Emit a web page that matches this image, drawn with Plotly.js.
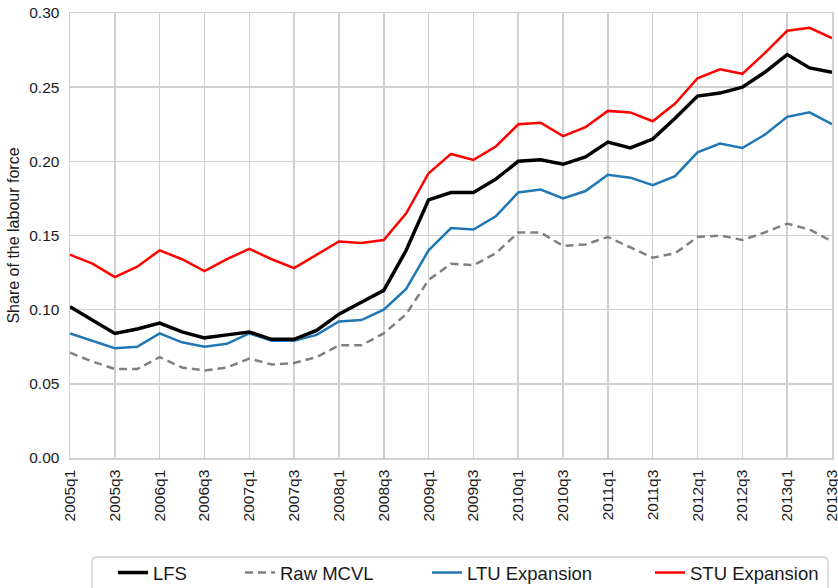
<!DOCTYPE html>
<html>
<head>
<meta charset="utf-8">
<script src="https://cdn.plot.ly/plotly-3.0.1.min.js"></script>
<style>html,body{margin:0;padding:0;background:#fff;}#chart{width:838px;height:588px;}</style>
</head>
<body>
<div id="chart"></div>
<script>
const quarters = [];
for (let y = 2005; y <= 2013; y++) {
  for (let q = 1; q <= 4; q++) {
    if (y === 2013 && q > 3) break;
    quarters.push(y + "q" + q);
  }
}
const tickLabels = quarters.filter((_, i) => i % 2 === 0);

const lfs = [0.102, 0.093, 0.084, 0.087, 0.091, 0.085, 0.081, 0.083, 0.085, 0.080, 0.080, 0.086, 0.097, 0.105, 0.113, 0.140, 0.174, 0.179, 0.179, 0.188, 0.200, 0.201, 0.198, 0.203, 0.213, 0.209, 0.215, 0.229, 0.244, 0.246, 0.250, 0.260, 0.272, 0.263, 0.260];
const rawMcvl = [0.071, 0.065, 0.060, 0.060, 0.068, 0.061, 0.059, 0.061, 0.067, 0.063, 0.064, 0.068, 0.076, 0.076, 0.084, 0.097, 0.120, 0.131, 0.130, 0.138, 0.152, 0.152, 0.143, 0.144, 0.149, 0.142, 0.135, 0.138, 0.149, 0.150, 0.147, 0.152, 0.158, 0.154, 0.146];
const ltu = [0.084, 0.079, 0.074, 0.075, 0.084, 0.078, 0.075, 0.077, 0.084, 0.079, 0.079, 0.083, 0.092, 0.093, 0.100, 0.114, 0.140, 0.155, 0.154, 0.163, 0.179, 0.181, 0.175, 0.180, 0.191, 0.189, 0.184, 0.190, 0.206, 0.212, 0.209, 0.218, 0.230, 0.233, 0.225];
const stu = [0.137, 0.131, 0.122, 0.129, 0.140, 0.134, 0.126, 0.134, 0.141, 0.134, 0.128, 0.137, 0.146, 0.145, 0.147, 0.165, 0.192, 0.205, 0.201, 0.210, 0.225, 0.226, 0.217, 0.223, 0.234, 0.233, 0.227, 0.239, 0.256, 0.262, 0.259, 0.273, 0.288, 0.290, 0.283];

const W = 838, H = 588, L = 70, R = 6, T = 13, B = 130;
const pw = W - L - R, ph = H - T - B;
const px = v => (v - L) / pw;
const py = v => (H - B - v) / ph;

const legY = py(554);
const traces = [
  {x: quarters, y: stu, name: 'STU Expansion', mode: 'lines', line: {color: '#ff0000', width: 2.5}, legend: 'legend4'},
  {x: quarters, y: ltu, name: 'LTU Expansion', mode: 'lines', line: {color: '#1f77b4', width: 2.5}, legend: 'legend3'},
  {x: quarters, y: rawMcvl, name: 'Raw MCVL', mode: 'lines', line: {color: '#808080', width: 2.5, dash: '8px,5px'}, legend: 'legend2'},
  {x: quarters, y: lfs, name: 'LFS', mode: 'lines', line: {color: '#000000', width: 3.5}, legend: 'legend'}
];
const legBase = {orientation: 'h', yanchor: 'top', xanchor: 'left', y: legY, bgcolor: 'rgba(0,0,0,0)', borderwidth: 0,
  font: {family: 'Liberation Sans, Arial, sans-serif', size: 18.5, color: '#1a1a1a'}};

const x0 = px(92), x1 = px(828), yTop = py(557), yBot = py(600);
const rx = 5 / pw, ry = 5 / ph;
const boxPath = `M ${x0} ${yBot} L ${x0} ${yTop - ry} Q ${x0} ${yTop} ${x0 + rx} ${yTop} L ${x1 - rx} ${yTop} Q ${x1} ${yTop} ${x1} ${yTop - ry} L ${x1} ${yBot}`;

const layout = {
  width: W, height: H,
  margin: {l: L, r: R, t: T, b: B, autoexpand: false},
  paper_bgcolor: '#ffffff', plot_bgcolor: '#ffffff',
  font: {family: 'Liberation Sans, Arial, sans-serif', size: 15.5, color: '#1a1a1a'},
  xaxis: {
    type: 'category', categoryorder: 'array', categoryarray: quarters,
    range: [0, quarters.length - 1],
    tickmode: 'array', tickvals: tickLabels, ticktext: tickLabels,
    tickangle: -90, ticks: '', ticklabelstandoff: 4,
    showgrid: true, gridcolor: '#d0d0d0', gridwidth: 1.5,
    showline: true, linecolor: '#d0d0d0', linewidth: 1.5, mirror: true, zeroline: false,
    tickfont: {size: 15.5}
  },
  yaxis: {
    range: [0, 0.30], tickvals: [0, 0.05, 0.10, 0.15, 0.20, 0.25, 0.30], tickformat: '.2f',
    ticks: '', ticklabelstandoff: 6,
    showgrid: true, gridcolor: '#d0d0d0', gridwidth: 1.5,
    showline: true, linecolor: '#d0d0d0', linewidth: 1.5, mirror: true, zeroline: false,
    tickfont: {size: 15.5},
    title: {text: 'Share of the labour force', font: {size: 16}, standoff: 5}
  },
  legend: Object.assign({}, legBase, {x: px(113)}),
  legend2: Object.assign({}, legBase, {x: px(240)}),
  legend3: Object.assign({}, legBase, {x: px(427)}),
  legend4: Object.assign({}, legBase, {x: px(650)}),
  shapes: [{
    type: 'path', xref: 'paper', yref: 'paper', path: boxPath,
    line: {color: '#cccccc', width: 1.3}, layer: 'below'
  }],
  showlegend: true
};

Plotly.newPlot('chart', traces, layout, {displayModeBar: false, staticPlot: true});
</script>
</body>
</html>
